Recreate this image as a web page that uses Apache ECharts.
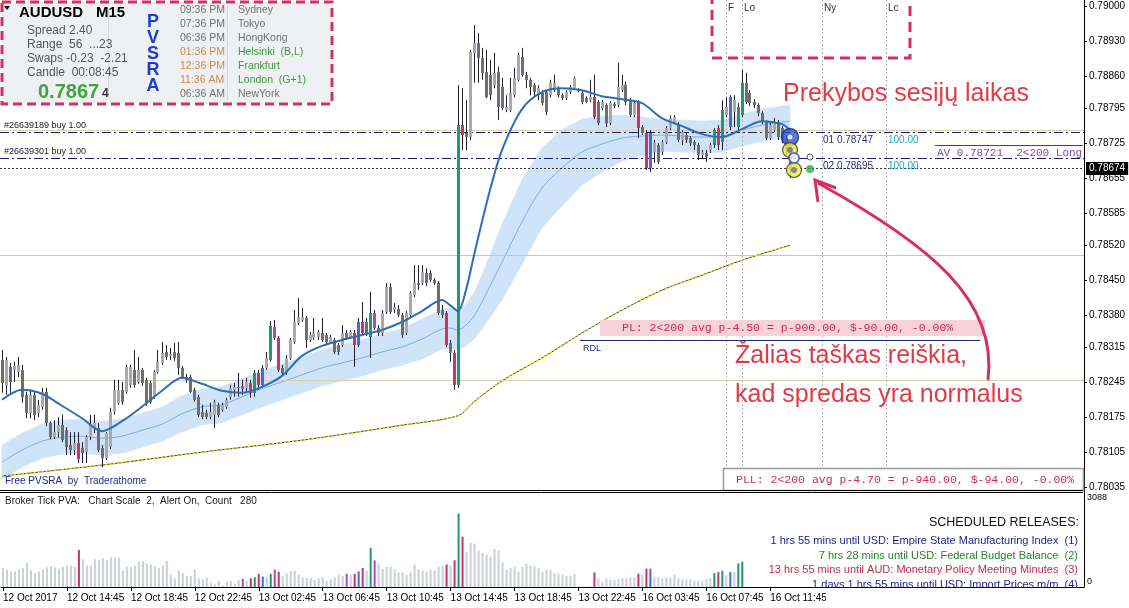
<!DOCTYPE html>
<html><head><meta charset="utf-8">
<script src="https://cdn.jsdelivr.net/npm/echarts@6/dist/echarts.min.js"></script>
<style>html,body{margin:0;padding:0;background:#fff}#c{width:1129px;height:608px}</style>
</head><body><div id="c"></div>
<script>
// ---------- DATA ----------
const tickLabels = ['12 Oct 2017','12 Oct 14:45','12 Oct 18:45','12 Oct 22:45','13 Oct 02:45','13 Oct 06:45','13 Oct 10:45','13 Oct 14:45','13 Oct 18:45','13 Oct 22:45','16 Oct 03:45','16 Oct 07:45','16 Oct 11:45'];
const priceTicks = [0.79000,0.78930,0.78860,0.78795,0.78725,0.78655,0.78585,0.78520,0.78450,0.78380,0.78315,0.78245,0.78175,0.78105,0.78035];
const volumeTicks = [0, 3088];
// [open, close, low, high]
const candles = [
[0.78290,0.78244,0.78224,0.78310],[0.78240,0.78290,0.78220,0.78296],[0.78276,0.78246,0.78224,0.78284],[0.78270,0.78278,0.78246,0.78286],
[0.78266,0.78280,0.78256,0.78296],[0.78270,0.78216,0.78204,0.78280],[0.78220,0.78184,0.78173,0.78226],[0.78184,0.78220,0.78173,0.78230],
[0.78220,0.78180,0.78169,0.78226],[0.78184,0.78200,0.78175,0.78210],[0.78196,0.78226,0.78190,0.78234],[0.78226,0.78163,0.78157,0.78234],
[0.78163,0.78135,0.78131,0.78167],[0.78135,0.78145,0.78131,0.78169],[0.78145,0.78159,0.78135,0.78175],[0.78159,0.78129,0.78125,0.78180],
[0.78149,0.78115,0.78099,0.78155],[0.78119,0.78109,0.78099,0.78145],[0.78109,0.78123,0.78099,0.78145],[0.78123,0.78091,0.78083,0.78145],
[0.78113,0.78103,0.78083,0.78125],[0.78105,0.78135,0.78083,0.78139],[0.78135,0.78159,0.78129,0.78180],[0.78153,0.78163,0.78143,0.78180],
[0.78153,0.78109,0.78105,0.78163],[0.78113,0.78093,0.78075,0.78119],[0.78093,0.78143,0.78089,0.78145],[0.78115,0.78186,0.78111,0.78194],
[0.78186,0.78230,0.78180,0.78250],[0.78204,0.78230,0.78200,0.78250],[0.78230,0.78206,0.78200,0.78246],[0.78226,0.78276,0.78222,0.78280],
[0.78240,0.78276,0.78234,0.78280],[0.78270,0.78240,0.78234,0.78310],[0.78246,0.78270,0.78242,0.78296],[0.78270,0.78244,0.78238,0.78274],
[0.78250,0.78204,0.78198,0.78254],[0.78244,0.78206,0.78202,0.78248],[0.78216,0.78266,0.78212,0.78270],[0.78266,0.78286,0.78262,0.78310],
[0.78284,0.78304,0.78280,0.78326],[0.78306,0.78296,0.78290,0.78320],[0.78298,0.78302,0.78290,0.78314],[0.78306,0.78294,0.78288,0.78324],
[0.78304,0.78274,0.78260,0.78326],[0.78274,0.78256,0.78252,0.78278],[0.78256,0.78250,0.78244,0.78262],[0.78256,0.78226,0.78224,0.78260],
[0.78230,0.78210,0.78206,0.78234],[0.78216,0.78180,0.78175,0.78220],[0.78186,0.78175,0.78171,0.78200],[0.78184,0.78175,0.78171,0.78190],
[0.78175,0.78186,0.78171,0.78204],[0.78180,0.78206,0.78153,0.78210],[0.78200,0.78180,0.78175,0.78204],[0.78190,0.78200,0.78186,0.78204],
[0.78196,0.78210,0.78192,0.78214],[0.78216,0.78234,0.78210,0.78240],[0.78230,0.78236,0.78216,0.78244],[0.78236,0.78234,0.78216,0.78264],
[0.78238,0.78232,0.78220,0.78250],[0.78234,0.78246,0.78226,0.78254],[0.78244,0.78224,0.78214,0.78250],[0.78224,0.78264,0.78216,0.78270],
[0.78264,0.78240,0.78230,0.78270],[0.78240,0.78274,0.78234,0.78280],[0.78274,0.78294,0.78270,0.78306],[0.78290,0.78358,0.78286,0.78368],
[0.78356,0.78334,0.78330,0.78370],[0.78334,0.78270,0.78266,0.78338],[0.78274,0.78264,0.78258,0.78280],[0.78264,0.78294,0.78260,0.78300],
[0.78294,0.78330,0.78290,0.78334],[0.78326,0.78366,0.78322,0.78390],[0.78364,0.78376,0.78360,0.78414],[0.78370,0.78376,0.78366,0.78394],
[0.78374,0.78330,0.78314,0.78378],[0.78330,0.78340,0.78326,0.78346],[0.78334,0.78344,0.78330,0.78374],[0.78336,0.78346,0.78330,0.78350],
[0.78344,0.78330,0.78326,0.78374],[0.78340,0.78326,0.78320,0.78344],[0.78326,0.78336,0.78322,0.78340],[0.78330,0.78306,0.78302,0.78334],
[0.78320,0.78306,0.78300,0.78324],[0.78320,0.78344,0.78316,0.78360],[0.78344,0.78334,0.78330,0.78350],[0.78336,0.78346,0.78332,0.78350],
[0.78344,0.78320,0.78276,0.78350],[0.78320,0.78366,0.78316,0.78374],[0.78366,0.78344,0.78340,0.78406],[0.78366,0.78344,0.78338,0.78374],
[0.78336,0.78384,0.78294,0.78426],[0.78384,0.78354,0.78350,0.78390],[0.78354,0.78344,0.78338,0.78360],[0.78344,0.78384,0.78338,0.78390],
[0.78386,0.78436,0.78382,0.78444],[0.78436,0.78386,0.78382,0.78444],[0.78390,0.78396,0.78384,0.78404],[0.78392,0.78380,0.78376,0.78400],
[0.78380,0.78340,0.78334,0.78384],[0.78344,0.78384,0.78340,0.78388],[0.78380,0.78424,0.78376,0.78428],[0.78420,0.78444,0.78416,0.78480],
[0.78444,0.78440,0.78430,0.78480],[0.78444,0.78466,0.78440,0.78480],[0.78464,0.78444,0.78438,0.78474],[0.78464,0.78450,0.78446,0.78470],
[0.78450,0.78444,0.78440,0.78454],[0.78444,0.78384,0.78380,0.78448],[0.78390,0.78380,0.78374,0.78400],[0.78384,0.78320,0.78316,0.78388],
[0.78324,0.78304,0.78286,0.78330],[0.78304,0.78240,0.78230,0.78310],[0.78240,0.78761,0.78234,0.78841],[0.78761,0.78741,0.78711,0.78835],
[0.78745,0.78737,0.78711,0.78811],[0.78737,0.78908,0.78731,0.78912],[0.78906,0.78926,0.78846,0.78962],[0.78926,0.78896,0.78846,0.78946],
[0.78896,0.78866,0.78852,0.78916],[0.78868,0.78817,0.78815,0.78912],[0.78862,0.78821,0.78811,0.78892],[0.78841,0.78866,0.78835,0.78906],
[0.78868,0.78797,0.78771,0.78878],[0.78837,0.78795,0.78791,0.78856],[0.78791,0.78797,0.78787,0.78821],[0.78791,0.78825,0.78787,0.78856],
[0.78821,0.78856,0.78817,0.78876],[0.78852,0.78902,0.78848,0.78906],[0.78898,0.78862,0.78858,0.78916],[0.78862,0.78852,0.78835,0.78868],
[0.78852,0.78837,0.78821,0.78856],[0.78841,0.78827,0.78817,0.78846],[0.78821,0.78835,0.78811,0.78841],[0.78825,0.78805,0.78801,0.78831],
[0.78827,0.78787,0.78781,0.78831],[0.78821,0.78846,0.78817,0.78852],[0.78831,0.78846,0.78827,0.78862],[0.78835,0.78821,0.78817,0.78839],
[0.78821,0.78815,0.78811,0.78825],[0.78815,0.78827,0.78811,0.78831],[0.78827,0.78837,0.78823,0.78841],[0.78835,0.78856,0.78831,0.78858],
[0.78833,0.78829,0.78827,0.78835],[0.78825,0.78807,0.78803,0.78829],[0.78815,0.78807,0.78805,0.78819],[0.78811,0.78817,0.78807,0.78852],
[0.78817,0.78777,0.78773,0.78862],[0.78807,0.78765,0.78761,0.78811],[0.78795,0.78807,0.78791,0.78811],[0.78801,0.78765,0.78757,0.78805],
[0.78765,0.78805,0.78761,0.78809],[0.78803,0.78799,0.78795,0.78807],[0.78801,0.78837,0.78797,0.78886],[0.78831,0.78841,0.78827,0.78862],
[0.78841,0.78807,0.78801,0.78848],[0.78811,0.78781,0.78777,0.78815],[0.78781,0.78805,0.78777,0.78811],[0.78805,0.78755,0.78735,0.78811],
[0.78757,0.78745,0.78741,0.78761],[0.78745,0.78675,0.78671,0.78751],[0.78675,0.78745,0.78667,0.78751],[0.78707,0.78725,0.78685,0.78731],
[0.78721,0.78687,0.78683,0.78725],[0.78707,0.78727,0.78701,0.78731],[0.78727,0.78755,0.78723,0.78759],[0.78755,0.78775,0.78751,0.78781],
[0.78767,0.78777,0.78763,0.78781],[0.78761,0.78731,0.78727,0.78767],[0.78731,0.78747,0.78721,0.78751],[0.78741,0.78731,0.78725,0.78745],
[0.78735,0.78725,0.78719,0.78739],[0.78727,0.78721,0.78711,0.78731],[0.78721,0.78701,0.78691,0.78725],[0.78701,0.78707,0.78695,0.78711],
[0.78705,0.78697,0.78687,0.78711],[0.78711,0.78721,0.78705,0.78725],[0.78721,0.78751,0.78715,0.78755],[0.78755,0.78721,0.78711,0.78761],
[0.78727,0.78791,0.78711,0.78811],[0.78781,0.78797,0.78777,0.78817],[0.78757,0.78817,0.78751,0.78821],[0.78787,0.78811,0.78757,0.78821],
[0.78757,0.78797,0.78751,0.78805],[0.78781,0.78846,0.78777,0.78872],[0.78846,0.78807,0.78803,0.78866],[0.78825,0.78805,0.78799,0.78831],
[0.78807,0.78801,0.78795,0.78813],[0.78801,0.78785,0.78779,0.78805],[0.78785,0.78767,0.78763,0.78789],[0.78767,0.78735,0.78731,0.78771],
[0.78735,0.78761,0.78731,0.78767],[0.78751,0.78767,0.78747,0.78775],[0.78765,0.78737,0.78731,0.78771],[0.78755,0.78731,0.78725,0.78759],
[0.78735,0.78711,0.78701,0.78741],[0.78715,0.78674,0.78655,0.78719]
];
const volumes = [
629,572,515,515,572,629,801,549,458,515,572,652,686,652,606,664,709,709,664,1224,
915,709,709,915,881,950,892,972,972,972,538,664,664,709,835,858,778,744,686,629,
709,858,400,286,549,458,366,366,572,286,252,320,137,92,206,57,172,206,114,229,
275,206,286,320,435,343,343,435,572,503,366,458,526,538,400,320,297,297,229,286,
320,206,252,320,400,366,435,400,435,515,629,538,1293,881,778,595,664,664,572,480,
480,400,480,744,572,538,515,572,538,664,709,744,709,881,2425,1659,1167,1464,1430,1201,
1121,1064,1007,1258,1201,824,572,629,664,515,664,778,709,686,629,492,572,572,458,435,
400,366,366,435,11,11,11,23,480,286,172,286,252,229,252,286,286,320,320,435,
400,606,606,320,320,286,320,320,400,286,252,252,252,206,206,206,252,286,458,492,
538,400,492,492,778,835
];
const climaxBars = [19,62,63,64,67,69,88,90,92,111,113,114,115,148,159,161,178,179,180,184,185];
const aboveAvgBars = [60,65,68,86,89,93,162,182];
const emaLine = [[0,0.78210],[5,0.78230],[10,0.78222],[15,0.78198],[20,0.78173],[25,0.78147],[30,0.78167],[35,0.78196],[40,0.78228],[45,0.78254],[50,0.78242],[55,0.78228],[60,0.78224],[65,0.78236],[70,0.78258],[75,0.78298],[80,0.78318],[85,0.78330],[90,0.78340],[95,0.78350],[100,0.78366],[105,0.78388],[110,0.78410],[112,0.78400],[114,0.78388],[116,0.78430],[118,0.78500],[120,0.78567],[122,0.78631],[125,0.78711],[130,0.78793],[135,0.78827],[140,0.78835],[145,0.78831],[150,0.78819],[155,0.78813],[160,0.78805],[165,0.78775],[170,0.78759],[175,0.78743],[180,0.78737],[185,0.78753],[190,0.78769],[195,0.78763],[197,0.78751]];
const bandMid = [[0,0.78085],[5,0.78109],[10,0.78127],[15,0.78135],[20,0.78137],[25,0.78133],[30,0.78137],[35,0.78149],[40,0.78161],[45,0.78182],[50,0.78196],[55,0.78200],[60,0.78216],[65,0.78232],[70,0.78246],[75,0.78260],[80,0.78274],[85,0.78284],[90,0.78294],[95,0.78306],[100,0.78316],[105,0.78332],[110,0.78352],[112,0.78354],[114,0.78350],[116,0.78360],[118,0.78378],[120,0.78406],[122,0.78438],[125,0.78486],[130,0.78567],[135,0.78635],[140,0.78675],[145,0.78707],[150,0.78723],[155,0.78735],[160,0.78739],[165,0.78741],[170,0.78739],[175,0.78737],[180,0.78739],[185,0.78751],[190,0.78761],[195,0.78767],[197,0.78769]];
const bandUpper = [[0,0.78119],[5,0.78143],[10,0.78161],[15,0.78169],[20,0.78171],[25,0.78167],[30,0.78171],[35,0.78183],[40,0.78195],[45,0.78218],[50,0.78232],[55,0.78236],[60,0.78252],[65,0.78268],[70,0.78282],[75,0.78296],[80,0.78310],[85,0.78320],[90,0.78330],[95,0.78342],[100,0.78352],[105,0.78372],[110,0.78392],[112,0.78394],[114,0.78390],[116,0.78402],[118,0.78424],[120,0.78460],[122,0.78500],[125,0.78562],[130,0.78651],[135,0.78715],[140,0.78751],[145,0.78773],[150,0.78779],[155,0.78781],[160,0.78777],[165,0.78773],[170,0.78771],[175,0.78769],[180,0.78771],[185,0.78783],[190,0.78793],[195,0.78799],[197,0.78801]];
const bandLower = [[0,0.78051],[5,0.78075],[10,0.78093],[15,0.78101],[20,0.78103],[25,0.78099],[30,0.78103],[35,0.78115],[40,0.78127],[45,0.78146],[50,0.78160],[55,0.78164],[60,0.78180],[65,0.78196],[70,0.78210],[75,0.78224],[80,0.78238],[85,0.78248],[90,0.78258],[95,0.78270],[100,0.78280],[105,0.78292],[110,0.78312],[112,0.78314],[114,0.78310],[116,0.78318],[118,0.78332],[120,0.78352],[122,0.78376],[125,0.78410],[130,0.78483],[135,0.78555],[140,0.78599],[145,0.78641],[150,0.78667],[155,0.78689],[160,0.78701],[165,0.78709],[170,0.78707],[175,0.78705],[180,0.78707],[185,0.78719],[190,0.78729],[195,0.78735],[197,0.78737]];
const slowMa = [[0,0.78057],[25,0.78079],[50,0.78105],[75,0.78129],[100,0.78159],[114,0.78178],[118,0.78206],[125,0.78248],[135,0.78294],[145,0.78344],[155,0.78390],[165,0.78430],[175,0.78460],[185,0.78490],[197,0.78520]];
const roundLevels = [0.78750, 0.78500, 0.78250];
const orderTickets = ['#26639189 buy 1.00', '#26639301 buy 1.00'];
const orderPrices = [0.78747, 0.78695];
const orderTags = ['01 0.78747', '02 0.78695'];
const orderLots = ['100.00', '100.00'];
const avgPrice = 0.78721;
const bidPrice = 0.78674;
const sessionBars = [181, 185, 205, 221];
const sessionNames = ['F', 'Lo', 'Ny', 'Lc'];
const markerBlueBig = [[197, 0.78737]];
const markerYellow = [[197, 0.78711], [198, 0.78671]];
const markerRing = [[198, 0.78695]];
const markerWhite = [[202, 0.78697]];
const markerGreen = [[202, 0.78673]];
const sessionTimes = ['09:36 PM','07:36 PM','06:36 PM','01:36 PM','12:36 PM','11:36 AM','06:36 AM'];
const sessionCities = ['Sydney','Tokyo','HongKong','Helsinki  (B,L)','Frankfurt','London  (G+1)','NewYork'];
const releases = ['1 hrs 55 mins until USD: Empire State Manufacturing Index  (1)','7 hrs 28 mins until USD: Federal Budget Balance  (2)','13 hrs 55 mins until AUD: Monetary Policy Meeting Minutes  (3)','1 days 1 hrs 55 mins until USD: Import Prices m/m  (4)'];
const SLOTS = 271;

// ---------- STYLE ----------
const C = {bullN:'#a9a9a9', bearN:'#6f6f6f', green:'#1f9a6c', red:'#cc3366', blue:'#4a68d6', purple:'#b046c8', wick:'#1e1e2e', vol:'#c9d0d9'};
const FONT = 'Liberation Sans';
const climaxSet = new Set(climaxBars), aboveSet = new Set(aboveAvgBars);
function pvsraColor(i, bull, normal) {
  if (climaxSet.has(i)) return bull ? C.green : C.red;
  if (aboveSet.has(i)) return bull ? C.blue : C.purple;
  return normal !== undefined ? normal : (bull ? C.bullN : C.bearN);
}
const cats = Array.from({length: SLOTS}, (_, i) => String(i));
const isTick = (i) => i % 16 === 0 && i / 16 < tickLabels.length;

const chart = echarts.init(document.getElementById('c'), null, {renderer: 'canvas'});

const levelLines = [
  ...roundLevels.map((v, k) => ({yAxis: v, lineStyle: {color: k === 1 ? '#a8d8a8' : '#d8cfb2', width: 1, type: 'solid'}, label: {show: false}})),
  ...sessionBars.map((b) => ({xAxis: b, lineStyle: {color: '#b4b4b4', width: 1, type: [2, 2]}, label: {show: false}})),
  ...orderPrices.map((v, k) => ({yAxis: v, lineStyle: {color: '#1c1c5c', width: 1, type: [9, 3, 2, 3]},
    label: {show: true, position: 'insideStartTop', formatter: orderTickets[k], color: '#222', fontSize: 9, fontFamily: FONT, distance: [4, 2]}})),
  {yAxis: bidPrice, lineStyle: {color: '#333', width: 1, type: [2, 2]},
   label: {show: true, position: 'end', formatter: bidPrice.toFixed(5), color: '#fff', backgroundColor: '#000', padding: [2, 3, 1, 3], fontSize: 10, fontFamily: FONT, distance: 2}}
];

const option = {
  animation: false,
  backgroundColor: '#fff',
  grid: [
    {left: 0, top: 0, width: 1084, height: 490},
    {left: 0, top: 490, width: 1084, height: 97}
  ],
  xAxis: [
    {type: 'category', gridIndex: 0, data: cats, boundaryGap: true, axisLine: {show: false}, axisTick: {show: false}, axisLabel: {show: false}, splitLine: {show: false}},
    {type: 'category', gridIndex: 1, data: cats, boundaryGap: true,
     axisLine: {show: true, lineStyle: {color: '#000', width: 1}},
     axisTick: {show: true, interval: (i) => isTick(i), alignWithLabel: true, length: 4, lineStyle: {color: '#000'}},
     axisLabel: {show: true, interval: (i) => isTick(i), formatter: (v, i) => tickLabels[i / 16] || '', align: 'left', margin: 6, fontSize: 10, color: '#000', fontFamily: FONT},
     splitLine: {show: false}}
  ],
  yAxis: [
    {type: 'value', gridIndex: 0, min: 0.78029, max: 0.79012, position: 'right',
     axisLine: {show: true, lineStyle: {color: '#000'}},
     axisTick: {show: true, customValues: priceTicks, length: 3, lineStyle: {color: '#000'}},
     axisLabel: {show: true, customValues: priceTicks, formatter: (v) => v.toFixed(5), margin: 5, fontSize: 10, color: '#000', fontFamily: FONT},
     splitLine: {show: false}},
    {type: 'value', gridIndex: 1, min: 0, max: 3200, position: 'right',
     axisLine: {show: true, lineStyle: {color: '#000'}},
     axisTick: {show: false},
     axisLabel: {show: true, customValues: volumeTicks, formatter: (v) => v === 0 ? '{z|0}' : '{t|' + v + '}', margin: 3, fontSize: 9, color: '#000', fontFamily: FONT,
       rich: {z: {padding: [0, 0, 10, 0], fontSize: 9, fontFamily: FONT}, t: {padding: [8, 0, 0, 0], fontSize: 9, fontFamily: FONT}}},
     splitLine: {show: false}}
  ],
  series: [
    {type: 'custom', xAxisIndex: 0, yAxisIndex: 0, z: 1, silent: true,
     data: bandUpper.map((u, i) => [u[0], u[1], bandLower[i][1]]),
     encode: {x: 0, y: [1, 2]},
     renderItem: (p, api) => {
       const i = p.dataIndex;
       if (i >= bandUpper.length - 1) return null;
       const pts = [api.coord(bandUpper[i]), api.coord(bandUpper[i + 1]), api.coord(bandLower[i + 1]), api.coord(bandLower[i])];
       return {type: 'polygon', shape: {points: pts}, style: {fill: '#cfe4f8', stroke: '#cfe4f8', lineWidth: 0.8}};
     }},
    {type: 'line', xAxisIndex: 0, yAxisIndex: 0, data: slowMa, showSymbol: false, smooth: 0.3, z: 3, silent: true, lineStyle: {color: '#333', width: 1},
     markLine: {symbol: ['none', 'none'], precision: 5, silent: true, animation: false, data: levelLines}},
    {type: 'line', xAxisIndex: 0, yAxisIndex: 0, data: slowMa, showSymbol: false, smooth: 0.3, z: 3, silent: true, lineStyle: {color: '#f2e600', width: 1.4, type: [2, 2]}},
    {type: 'line', xAxisIndex: 0, yAxisIndex: 0, data: bandMid, showSymbol: false, smooth: 0.3, z: 3, silent: true, lineStyle: {color: '#7caee0', width: 1}},
    {type: 'custom', xAxisIndex: 0, yAxisIndex: 0, z: 5, silent: true,
     data: candles.map((d, i) => [i, d[0], d[1], d[2], d[3]]),
     encode: {x: 0, y: [1, 2, 3, 4]},
     renderItem: (p, api) => {
       const i = api.value(0), o = api.value(1), c = api.value(2), l = api.value(3), h = api.value(4);
       const po = api.coord([i, o]), pc = api.coord([i, c]), pl = api.coord([i, l]), ph = api.coord([i, h]);
       const x = Math.floor(po[0]);
       const top = Math.round(Math.min(po[1], pc[1])), bot = Math.round(Math.max(po[1], pc[1]));
       const fill = pvsraColor(i, c >= o);
       return {type: 'group', children: [
         {type: 'line', shape: {x1: x + 0.5, y1: ph[1], x2: x + 0.5, y2: pl[1]}, style: {stroke: C.wick, lineWidth: 1}},
         {type: 'rect', shape: {x: x - 1, y: top, width: 3, height: Math.max(1, bot - top)}, style: {fill: fill}}
       ]};
     }},
    {type: 'line', xAxisIndex: 0, yAxisIndex: 0, data: emaLine, showSymbol: false, smooth: 0.3, z: 6, silent: true, lineStyle: {color: '#2d6db9', width: 2}},
    {type: 'scatter', xAxisIndex: 0, yAxisIndex: 0, data: markerBlueBig, symbolSize: 17, z: 8, silent: true, itemStyle: {color: '#2f55c8', borderColor: '#1b2f80', borderWidth: 1.5}},
    {type: 'scatter', xAxisIndex: 0, yAxisIndex: 0, data: markerBlueBig, symbolSize: 5, z: 9, silent: true, itemStyle: {color: '#fff'}},
    {type: 'scatter', xAxisIndex: 0, yAxisIndex: 0, data: markerYellow, symbolSize: 15, z: 8, silent: true, itemStyle: {color: '#f4ea3a', borderColor: '#333', borderWidth: 1.2}},
    {type: 'scatter', xAxisIndex: 0, yAxisIndex: 0, data: markerYellow, symbolSize: 6, z: 9, silent: true, itemStyle: {color: '#5a70b8'}},
    {type: 'scatter', xAxisIndex: 0, yAxisIndex: 0, data: markerRing, symbolSize: 10, z: 8, silent: true, itemStyle: {color: '#fff', borderColor: '#2f55c8', borderWidth: 2}},
    {type: 'scatter', xAxisIndex: 0, yAxisIndex: 0, data: markerWhite, symbolSize: 6, z: 8, silent: true, itemStyle: {color: '#fff', borderColor: '#333', borderWidth: 1}},
    {type: 'scatter', xAxisIndex: 0, yAxisIndex: 0, data: markerGreen, symbolSize: 8, z: 8, silent: true, itemStyle: {color: '#22b04a'}},
    {type: 'bar', xAxisIndex: 1, yAxisIndex: 1, barWidth: 2, silent: true, z: 2,
     data: volumes.map((v, i) => ({value: v, itemStyle: {color: pvsraColor(i, candles[i][1] >= candles[i][0], C.vol)}}))}
  ]
};
chart.setOption(option);

// ---------- annotations ----------
const py = (v) => chart.convertToPixel({yAxisIndex: 0}, v);
const px = (j) => chart.convertToPixel({xAxisIndex: 0}, j);
function T(x, y, text, fill, font, align) {
  return {type: 'text', z: 50, silent: true, style: {x: x, y: y, text: text, fill: fill, font: font, align: align || 'left', verticalAlign: 'middle'}};
}
function L(x1, y1, x2, y2, stroke, w, dash) {
  return {type: 'line', z: 49, silent: true, shape: {x1, y1, x2, y2}, style: {stroke, lineWidth: w || 1, lineDash: dash || null}};
}
const g = [];
g.push(L(0, 490.5, 1083, 490.5, '#000', 1));
g.push(L(0, 492.5, 1083, 492.5, '#000', 1));
g.push({type: 'rect', z: 40, silent: true, shape: {x: 2, y: 2, width: 330, height: 102}, style: {fill: '#eef0f3', stroke: '#d6305f', lineWidth: 3, lineDash: [9, 5]}});
g.push(L(108.5, 8, 108.5, 98, '#d3d6db', 1));
g.push(L(227.5, 6, 227.5, 100, '#d3d6db', 1));
g.push({type: 'polygon', z: 50, silent: true, shape: {points: [[4, 6], [10, 6], [7, 10]]}, style: {fill: '#111'}});
g.push(T(19, 13, 'AUDUSD', '#000', 'bold 15px ' + FONT));
g.push(T(96, 13, 'M15', '#000', 'bold 15px ' + FONT));
g.push(T(27, 31, 'Spread 2.40', '#555', '12px ' + FONT));
g.push(T(27, 45, 'Range  56  ...23', '#555', '12px ' + FONT));
g.push(T(27, 59, 'Swaps -0.23  -2.21', '#555', '12px ' + FONT));
g.push(T(27, 73, 'Candle  00:08:45', '#555', '12px ' + FONT));
g.push(T(38, 92, '0.7867', '#3fa53f', 'bold 20px ' + FONT));
g.push(T(102, 94, '4', '#333', 'bold 12px ' + FONT));
['P', 'V', 'S', 'R', 'A'].forEach((ch, k) => g.push(T(153, 22 + k * 16, ch, '#1a3cd6', 'bold 18px ' + FONT, 'center')));
const timeColors = ['#707070', '#707070', '#707070', '#d08a4a', '#d08a4a', '#d08a4a', '#707070'];
const cityColors = ['#707070', '#707070', '#707070', '#3c9a3c', '#3c9a3c', '#3c9a3c', '#707070'];
sessionTimes.forEach((t, k) => {
  g.push(T(180, 10 + k * 14, t, timeColors[k], '10.5px ' + FONT));
  g.push(T(238, 10 + k * 14, sessionCities[k], cityColors[k], '10.5px ' + FONT));
});
g.push({type: 'rect', z: 40, silent: true, shape: {x: 712, y: -4, width: 198, height: 62}, style: {fill: 'none', stroke: '#d6305f', lineWidth: 3, lineDash: [10, 6]}});
sessionBars.forEach((b, k) => g.push(T(px(b) + 2, 8, sessionNames[k], '#333', '10px ' + FONT)));
orderPrices.forEach((v, k) => {
  const y = py(v) + 8;
  g.push(T(823, y, orderTags[k], '#24347f', '10px ' + FONT));
  g.push(T(888, y, orderLots[k], '#22a6c6', '10px ' + FONT));
});
const ya = py(avgPrice);
g.push(L(935, ya + 0.5, 1083, ya + 0.5, '#4a3080', 1));
g.push(T(937, ya + 8, 'AV 0.78721  2<200 Long', '#8a48a8', '11px Liberation Mono'));
g.push({type: 'rect', z: 45, silent: true, shape: {x: 600, y: 320, width: 385, height: 16}, style: {fill: '#f8d2da'}});
g.push(T(622, 328, 'PL: 2<200 avg p-4.50 = p-900.00, $-90.00, -0.00%', '#d02850', '11.5px Liberation Mono'));
g.push(L(580, 340.5, 980, 340.5, '#1c2a6e', 1));
g.push(T(583, 349, 'RDL', '#1c2a6e', '9px ' + FONT));
g.push({type: 'rect', z: 45, silent: true, shape: {x: 723.5, y: 468.5, width: 360, height: 22}, style: {fill: '#fff', stroke: '#9a9a9a', lineWidth: 1.5}});
g.push(T(736, 480, 'PLL: 2<200 avg p-4.70 = p-940.00, $-94.00, -0.00%', '#d02850', '11.5px Liberation Mono'));
g.push(T(5, 481, 'Free PVSRA  by  Traderathome', '#1c2a8a', '10px ' + FONT));
g.push(T(5, 501, 'Broker Tick PVA:   Chart Scale  2,  Alert On,  Count   280', '#222', '10px ' + FONT));
g.push(T(1079, 523, 'SCHEDULED RELEASES:', '#111', '12.5px ' + FONT, 'right'));
const relColors = ['#1c1c8c', '#2a7d2a', '#c22b4f', '#1c1c8c'];
releases.forEach((r, k) => g.push(T(1078, 541 + k * 14.5, r, relColors[k], '11px ' + FONT, 'right')));
g.push({type: 'rect', z: 51, silent: true, shape: {x: 826, y: 588, width: 257, height: 20}, style: {fill: '#fff'}});
const RED = '#e23b46';
g.push(T(783, 94, 'Prekybos sesijų laikas', RED, '25px ' + FONT));
g.push(T(735, 356, 'Žalias taškas reiškia,', RED, '25px ' + FONT));
g.push(T(735, 395, 'kad spredas yra normalus', RED, '25px ' + FONT));
g.push({type: 'bezierCurve', z: 50, silent: true, shape: {x1: 988, y1: 380, x2: 818, y2: 183, cpx1: 998, cpy1: 300, cpx2: 930, cpy2: 245}, style: {stroke: '#d6305f', lineWidth: 3, fill: 'none'}});
g.push({type: 'polyline', z: 50, silent: true, shape: {points: [[818, 202], [815, 180], [836, 188]]}, style: {stroke: '#d6305f', lineWidth: 3, fill: 'none'}});

chart.setOption({graphic: g});
</script>
</body></html>
